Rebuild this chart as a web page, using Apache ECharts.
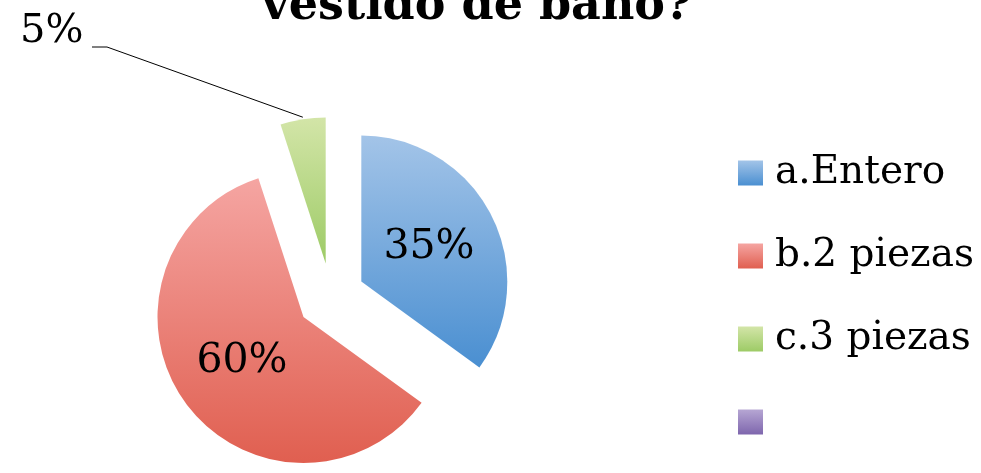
<!DOCTYPE html>
<html>
<head>
<meta charset="utf-8">
<script src="https://cdn.jsdelivr.net/npm/echarts@6/dist/echarts.min.js"></script>
<style>
html,body{margin:0;padding:0;background:#fff;}
#chart{width:981px;height:473px;}
</style>
</head>
<body>
<div id="chart"></div>
<script>
const titleText = 'vestido de baño?';
const categories = ['a.Entero', 'b.2 piezas', 'c.3 piezas', ' '];
const values = [35, 60, 5, 0];
const colorTop = ['#a3c4e8', '#f5a5a2', '#d3e5a8', '#b6a6d3'];
const colorBottom = ['#4a8fd1', '#e05f50', '#9dcb66', '#7e66ad'];

const FONT = 'DejaVu Serif';
const CENTER = [331, 297];
const RADIUS = 146;
const OFFSET = 34;

function grad(i) {
  return new echarts.graphic.LinearGradient(0, 0, 0, 1, [
    { offset: 0, color: colorTop[i] },
    { offset: 1, color: colorBottom[i] }
  ]);
}

const total = values.reduce((a, b) => a + b, 0);
const data = categories.map((name, i) => {
  const item = {
    name: name,
    value: values[i],
    selected: values[i] > 0,
    itemStyle: { color: grad(i) }
  };
  if (i >= 2) {
    item.label = { show: false };
  }
  return item;
});

// leader label for the small slice (index 2): anchor on its exploded outer arc
const smallIdx = 2;
let before = 0;
for (let k = 0; k < smallIdx; k++) before += values[k];
const midFrac = (before + values[smallIdx] / 2) / total;
const ang = midFrac * 2 * Math.PI; // clockwise from 12 o'clock
const anchor = [
  CENTER[0] + (RADIUS + OFFSET) * Math.sin(ang),
  CENTER[1] - (RADIUS + OFFSET) * Math.cos(ang) - 2
];
const smallLabel = Math.round(values[smallIdx] / total * 100) + '%';

const chart = echarts.init(document.getElementById('chart'), null, { renderer: 'canvas' });
chart.setOption({
  backgroundColor: '#ffffff',
  animation: false,
  title: {
    text: titleText,
    left: 262,
    top: -16,
    padding: 0,
    textStyle: { fontFamily: FONT, fontWeight: 'bold', fontSize: 46, color: '#000' }
  },
  legend: {
    orient: 'vertical',
    left: 738,
    top: 147,
    padding: 0,
    icon: 'rect',
    itemWidth: 25,
    itemHeight: 25,
    itemGap: 31,
    selectedMode: false,
    data: categories,
    textStyle: {
      fontFamily: FONT, fontSize: 39, color: '#000',
      lineHeight: 40, padding: [12, 0, 0, 7]
    }
  },
  graphic: [
    {
      type: 'polyline',
      silent: true,
      shape: { points: [anchor, [107, 47], [92, 47]] },
      style: { stroke: '#000', lineWidth: 1, fill: null }
    },
    {
      type: 'text',
      silent: true,
      left: 20,
      top: 12,
      style: {
        text: smallLabel,
        fontFamily: FONT,
        fontSize: 40,
        fill: '#000'
      }
    }
  ],
  series: [{
    type: 'pie',
    center: CENTER,
    radius: RADIUS,
    startAngle: 90,
    clockwise: true,
    selectedMode: 'multiple',
    selectedOffset: OFFSET,
    percentPrecision: 0,
    emphasis: { disabled: true },
    itemStyle: { borderWidth: 0 },
    label: {
      show: true,
      position: 'inside',
      formatter: '{d}%',
      fontFamily: FONT,
      fontSize: 41,
      color: '#000'
    },
    labelLine: { show: false },
    data: data
  }]
});
</script>
</body>
</html>
